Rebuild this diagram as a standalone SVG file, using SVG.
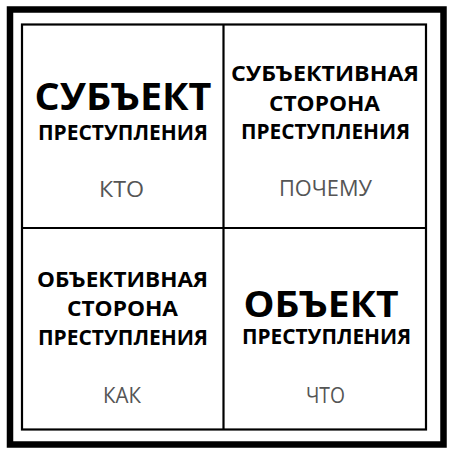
<svg xmlns="http://www.w3.org/2000/svg" width="452" height="449" viewBox="0 0 452 449">
<style>
.b{font-family:"Open Sans","Liberation Sans",sans-serif;font-weight:700;fill:#000;text-anchor:middle}
.big{font-size:38px}
.mid{font-size:21.5px}
.q{font-family:"Open Sans","Liberation Sans",sans-serif;font-weight:400;font-size:21px;fill:#555;text-anchor:middle}
.ln{stroke:#000;stroke-width:2.2;fill:none}
</style>
<rect width="452" height="449" fill="#fff"/>
<rect x="10" y="9.5" width="433.5" height="435" fill="none" stroke="#000" stroke-width="6.5"/>
<g id="connectors">
<rect class="ln" x="22" y="24.5" width="404" height="405"/>
<line class="ln" x1="223.5" y1="24.5" x2="223.5" y2="429.5"/>
<line class="ln" x1="22" y1="228" x2="426" y2="228"/>
</g>
<g id="subject">
<text class="b big" x="123" y="110" textLength="177" lengthAdjust="spacingAndGlyphs">СУБЪЕКТ</text>
<text class="b mid" x="123" y="140" textLength="170" lengthAdjust="spacingAndGlyphs">ПРЕСТУПЛЕНИЯ</text>
<text class="q" x="121.5" y="197" textLength="45" lengthAdjust="spacingAndGlyphs">КТО</text>
</g>
<g id="subjective">
<text class="b mid" x="325" y="81" textLength="188" lengthAdjust="spacingAndGlyphs">СУБЪЕКТИВНАЯ</text>
<text class="b mid" x="324.5" y="111" textLength="111" lengthAdjust="spacingAndGlyphs">СТОРОНА</text>
<text class="b mid" x="325.5" y="139" textLength="169" lengthAdjust="spacingAndGlyphs">ПРЕСТУПЛЕНИЯ</text>
<text class="q" x="325.5" y="196" textLength="93" lengthAdjust="spacingAndGlyphs">ПОЧЕМУ</text>
</g>
<g id="objective">
<text class="b mid" x="122.5" y="287" textLength="171" lengthAdjust="spacingAndGlyphs">ОБЪЕКТИВНАЯ</text>
<text class="b mid" x="122.5" y="316" textLength="111" lengthAdjust="spacingAndGlyphs">СТОРОНА</text>
<text class="b mid" x="123" y="345" textLength="170" lengthAdjust="spacingAndGlyphs">ПРЕСТУПЛЕНИЯ</text>
<text class="q" x="122" y="403" textLength="38" lengthAdjust="spacingAndGlyphs">КАК</text>
</g>
<g id="object">
<text class="b big" x="321" y="317" style="font-size:35px" textLength="155" lengthAdjust="spacingAndGlyphs">ОБЪЕКТ</text>
<text class="b mid" x="326.5" y="344" textLength="169" lengthAdjust="spacingAndGlyphs">ПРЕСТУПЛЕНИЯ</text>
<text class="q" x="325.5" y="403" textLength="39" lengthAdjust="spacingAndGlyphs">ЧТО</text>
</g>
</svg>
